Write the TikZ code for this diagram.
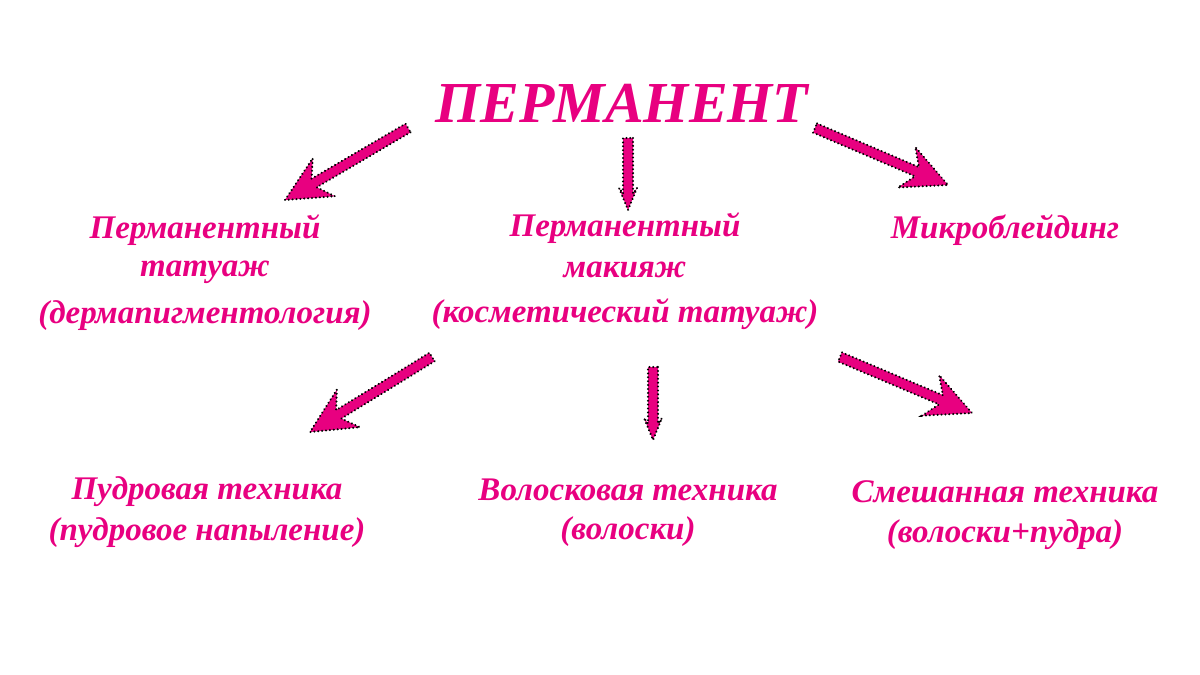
\documentclass[tikz,border=0pt]{standalone}
\usepackage{fontspec}
\setmainfont{Liberation Serif}
\usetikzlibrary{calc}
\definecolor{pk}{RGB}{232,0,128}
\tikzset{lbl/.style={text=pk,font=\fontsize{33}{35}\selectfont\bfseries\itshape,inner sep=0pt},
dotline/.style={draw=black,line width=2.2pt,line cap=round,dash pattern=on 0.1pt off 3.8pt,fill=pk}}
\newcommand{\parrow}[4]{% tail, tip, head length, head halfwidth
\path let \p1=($(#2)-(#1)$), \n1={atan2(\y1,\x1)}, \n2={veclen(\x1,\y1)} in
 [shift={(#1)},rotate=\n1] [dotline]
 (0,-5) -- ({\n2-#3*0.75},-5) -- ({\n2-#3},-#4) -- (\n2,0) -- ({\n2-#3},#4) -- ({\n2-#3*0.75},5) -- (0,5) -- cycle;}
\begin{document}
\begin{tikzpicture}[x=1pt,y=-1pt]
\useasboundingbox (0,0) rectangle (1200,675);
\node[lbl,font=\fontsize{58}{58}\selectfont\bfseries\itshape] (t) at (622,103) {ПЕРМАНЕНТ};
\node[lbl] (a1) at (205,230) {Перманентный};
\node[lbl] (a2) at (205,272) {татуаж};
\node[lbl] (a3) at (205,316) {(дермапигментология)};
\node[lbl] (b1) at (625,228) {Перманентный};
\node[lbl] (b2) at (625,270) {макияж};
\node[lbl] (b3) at (625,314) {(косметический татуаж)};
\node[lbl] (c1) at (1005,230) {Микроблейдинг};
\node[lbl] (d1) at (207,492) {Пудровая техника};
\node[lbl] (d2) at (207,533) {(пудровое напыление)};
\node[lbl] (e1) at (628,490) {Волосковая техника};
\node[lbl] (e2) at (628,532) {(волоски)};
\node[lbl] (f1) at (1005,492) {Смешанная техника};
\node[lbl] (f2) at (1005,535) {(волоски+пудра)};
\coordinate (s1) at (408,128); \coordinate (e1a) at (285,200);
\coordinate (s2) at (628,138); \coordinate (e2a) at (628,210);
\coordinate (s3) at (815,128); \coordinate (e3a) at (948,185);
\coordinate (s4) at (432,357); \coordinate (e4a) at (310,432);
\coordinate (s5) at (653,367); \coordinate (e5a) at (653,440);
\coordinate (s6) at (840,357); \coordinate (e6a) at (972,413);
\parrow{s1}{e1a}{45}{22}
\parrow{s2}{e2a}{22}{9}
\parrow{s3}{e3a}{45}{22}
\parrow{s4}{e4a}{45}{22}
\parrow{s5}{e5a}{22}{9}
\parrow{s6}{e6a}{45}{22}
\end{tikzpicture}
\end{document}
